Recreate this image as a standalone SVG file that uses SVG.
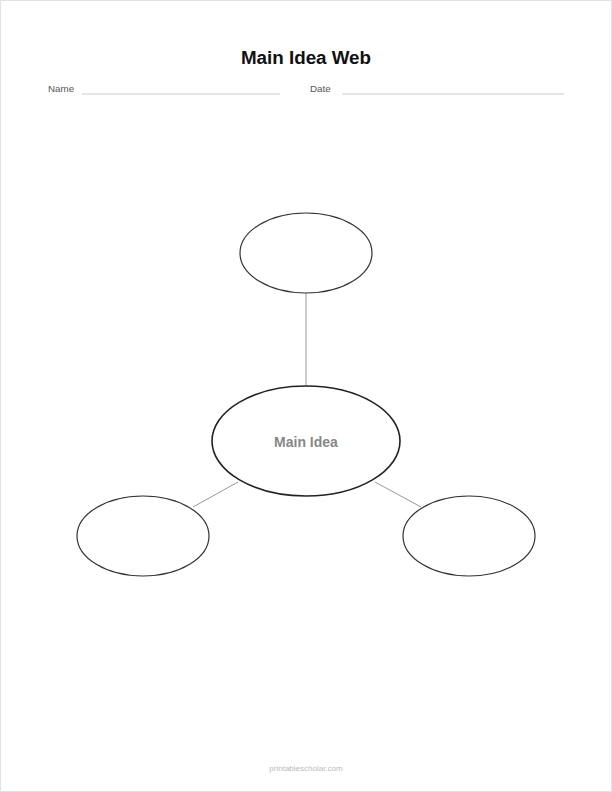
<svg xmlns="http://www.w3.org/2000/svg" width="612" height="792" viewBox="0 0 612 792">
<style>
.bubble{fill:#fff;stroke:#333;stroke-width:1.2}
.main{fill:#fff;stroke:#222;stroke-width:1.6}
.conn{stroke:#999;stroke-width:1;fill:none}
.lbl{font-family:"Liberation Sans",Arial,sans-serif;fill:#555;font-size:9.8px}
.rule{stroke:#ccc;stroke-width:1.2}
</style>
<rect x="0" y="0" width="612" height="792" fill="#fff"/>
<rect x="0.5" y="0.5" width="611" height="791" fill="none" stroke="#dde3ee" stroke-width="1"/>
<text x="306" y="64" text-anchor="middle" font-family="Liberation Sans,Arial,sans-serif" font-weight="bold" font-size="18.8" fill="#111">Main Idea Web</text>
<text class="lbl" x="48" y="92">Name</text>
<line class="rule" x1="82" y1="94" x2="280" y2="94"/>
<text class="lbl" x="310" y="92">Date</text>
<line class="rule" x1="342" y1="94" x2="564" y2="94"/>
<g id="connectors">
<line class="conn" x1="306" y1="293" x2="306" y2="386"/>
<line class="conn" x1="193" y1="507" x2="238" y2="482"/>
<line class="conn" x1="375" y1="482" x2="421" y2="507"/>
</g>
<g id="top"><ellipse class="bubble" cx="306" cy="253" rx="66" ry="40"/></g>
<g id="main"><ellipse class="main" cx="306" cy="441" rx="94" ry="55"/>
<text x="306" y="447" text-anchor="middle" font-family="Liberation Sans,Arial,sans-serif" font-weight="bold" font-size="14" fill="#888">Main Idea</text></g>
<g id="left"><ellipse class="bubble" cx="143" cy="536" rx="66" ry="40"/></g>
<g id="right"><ellipse class="bubble" cx="469" cy="536" rx="66" ry="40"/></g>
<text x="306" y="771" text-anchor="middle" font-family="Liberation Sans,Arial,sans-serif" font-size="8" fill="#bbb">printablescholar.com</text>
</svg>
